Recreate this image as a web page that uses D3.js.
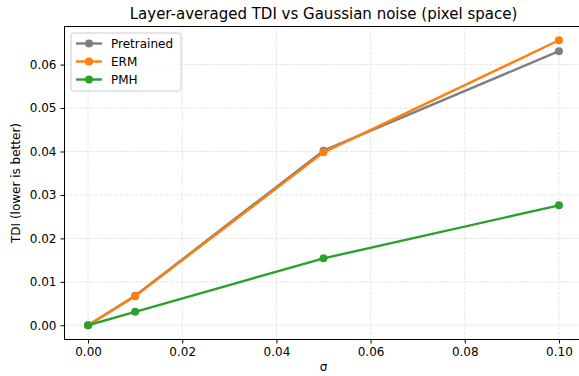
<!DOCTYPE html>
<html><head><meta charset="utf-8">
<script src="https://cdn.jsdelivr.net/npm/d3@7"></script>
<style>
html,body{margin:0;padding:0;background:#fff;}
svg{display:block;font-family:"DejaVu Sans",sans-serif;}
</style></head>
<body><svg id="c" width="579" height="376"></svg>
<script>
const sigmas = [0.00, 0.01, 0.05, 0.10];
const pretrained = [0.0000, 0.0068, 0.0402, 0.0631];
const erm = [0.0000, 0.0067, 0.0398, 0.0656];
const pmh = [0.0000, 0.0031, 0.0154, 0.0276];
const seriesNames = ["Pretrained", "ERM", "PMH"];
const seriesColors = ["#7f7f7f", "#ff7f0e", "#2ca02c"];
const xTicks = [0.00, 0.02, 0.04, 0.06, 0.08, 0.10];
const yTicks = [0.00, 0.01, 0.02, 0.03, 0.04, 0.05, 0.06];
const title = "Layer-averaged TDI vs Gaussian noise (pixel space)";
const xLabel = "σ";
const yLabel = "TDI (lower is better)";

const series = [pretrained, erm, pmh].map((v, i) => ({name: seriesNames[i], color: seriesColors[i], values: v}));

const svg = d3.select("#c");
const L = 64.5, R = 582.5, T = 26.5, B = 339.5;
const x = d3.scaleLinear().domain([-0.005, 0.105]).range([L, R]);
const y = d3.scaleLinear().domain([-0.003275, 0.068775]).range([B, T]);

// grid
const grid = svg.append("g");
grid.selectAll(".gx").data(xTicks).join("line")
  .attr("x1", d => x(d)).attr("x2", d => x(d)).attr("y1", T).attr("y2", B)
  .attr("stroke", "#b0b0b0").attr("stroke-opacity", 0.4).attr("stroke-width", 0.8).attr("stroke-dasharray", "3.5,1.5");
grid.selectAll(".gy").data(yTicks).join("line")
  .attr("y1", d => y(d)).attr("y2", d => y(d)).attr("x1", L).attr("x2", R)
  .attr("stroke", "#b0b0b0").attr("stroke-opacity", 0.4).attr("stroke-width", 0.8).attr("stroke-dasharray", "3.5,1.5");

// axes
const xAxis = d3.axisBottom(x).tickValues(xTicks).tickFormat(d3.format(".2f")).tickSize(4).tickPadding(4);
const yAxis = d3.axisLeft(y).tickValues(yTicks).tickFormat(d3.format(".2f")).tickSize(4).tickPadding(4);
const gx = svg.append("g").attr("transform", `translate(0,${B})`).call(xAxis);
const gy = svg.append("g").attr("transform", `translate(${L},0)`).call(yAxis);
[gx, gy].forEach(g => {
  g.select(".domain").remove();
  g.selectAll("text").attr("font-family", "DejaVu Sans").attr("font-size", 12).attr("fill", "#000");
  g.selectAll("line").attr("stroke", "#000").attr("stroke-width", 1);
});
// spines
svg.append("rect").attr("x", L).attr("y", T).attr("width", R - L).attr("height", B - T)
  .attr("fill", "none").attr("stroke", "#000").attr("stroke-width", 1);

// lines
const line = d3.line().x((d, i) => x(sigmas[i])).y(d => y(d));
series.forEach(s => {
  svg.append("path").datum(s.values).attr("d", line)
    .attr("fill", "none").attr("stroke", s.color).attr("stroke-width", 2.4).attr("stroke-linejoin", "round").attr("stroke-linecap", "square");
  svg.append("g").selectAll("circle").data(s.values).join("circle")
    .attr("cx", (d, i) => x(sigmas[i])).attr("cy", d => y(d)).attr("r", 4).attr("fill", s.color);
});

// title and labels
svg.append("text").attr("x", (L + R) / 2).attr("y", 19).attr("text-anchor", "middle")
  .attr("font-size", 15).attr("fill", "#000").text(title);
svg.append("text").attr("x", (L + R) / 2).attr("y", 371).attr("text-anchor", "middle")
  .attr("font-size", 12).attr("fill", "#000").text(xLabel);
svg.append("text").attr("transform", `translate(20,${(T + B) / 2}) rotate(-90)`).attr("text-anchor", "middle")
  .attr("font-size", 12).attr("fill", "#000").text(yLabel);

// legend
const lg = svg.append("g").attr("transform", "translate(71,33)");
lg.append("rect").attr("x", 0).attr("y", 0).attr("width", 110).attr("height", 58).attr("rx", 2.5)
  .attr("fill", "#fff").attr("fill-opacity", 0.8).attr("stroke", "#cccccc").attr("stroke-width", 1);
series.forEach((s, i) => {
  const cy = 10.5 + i * 18;
  lg.append("line").attr("x1", 5).attr("x2", 31).attr("y1", cy).attr("y2", cy).attr("stroke", s.color).attr("stroke-width", 2.4);
  lg.append("circle").attr("cx", 18).attr("cy", cy).attr("r", 4).attr("fill", s.color);
  lg.append("text").attr("x", 40).attr("y", cy + 4.3).attr("font-size", 12).attr("fill", "#000").text(s.name);
});
</script></body></html>
